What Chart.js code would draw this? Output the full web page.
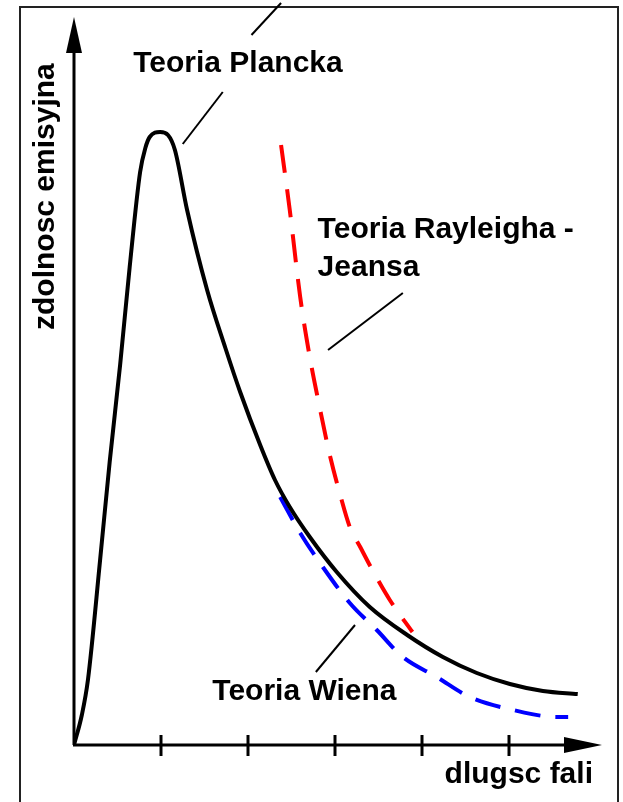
<!DOCTYPE html>
<html>
<head>
<meta charset="utf-8">
<script src="https://cdn.jsdelivr.net/npm/chart.js@4.4.1/dist/chart.umd.min.js"></script>
<style>
  html, body { margin: 0; padding: 0; background: #fff; }
  canvas { display: block; }
</style>
</head>
<body>
<canvas id="planckChart" width="623" height="802"></canvas>
<script>
// wavelength in tick units, emissivity in arbitrary units
var planckX = [0, 0.09, 0.16, 0.30, 0.41, 0.53, 0.64, 0.76, 0.82, 0.87, 0.99, 1.08, 1.16, 1.30, 1.53, 1.74, 1.91, 2.14, 2.31, 2.48, 2.71, 3.02, 3.40, 3.83, 4.24, 4.63, 5.01, 5.39, 5.79];
var planckY = [0, 0.30, 0.65, 1.85, 2.83, 3.80, 4.78, 5.73, 5.97, 6.08, 6.13, 6.10, 5.95, 5.35, 4.55, 3.97, 3.53, 3.00, 2.65, 2.38, 2.08, 1.73, 1.38, 1.10, 0.88, 0.72, 0.61, 0.54, 0.51];

var rayleighX = [2.38, 2.48, 2.60, 2.71, 2.83, 2.94, 3.06, 3.17, 3.29, 3.43, 3.63, 3.89];
var rayleighY = [6.00, 5.35, 4.48, 3.88, 3.35, 2.90, 2.50, 2.18, 1.98, 1.75, 1.45, 1.13];

var wienX = [2.37, 2.60, 2.86, 3.17, 3.48, 3.78, 4.17, 4.55, 5.05, 5.55, 5.68];
var wienY = [2.48, 2.12, 1.78, 1.42, 1.15, 0.88, 0.68, 0.48, 0.35, 0.28, 0.28];

var xTicks = [1, 2, 3, 4, 5];

// captions: [text, x, y] (baseline-left, data units)
var captions = [
  ['Teoria Plancka', 0.68, 6.73],
  ['Teoria Rayleigha -', 2.80, 5.07],
  ['Jeansa', 2.80, 4.69],
  ['Teoria Wiena', 1.59, 0.45],
  ['dlugsc fali', 4.26, -0.38]
];
var yTitle = ['zdolnosc emisyjna', -0.23, 4.15];

// pointer lines: [x1, y1, x2, y2]
var pointers = [
  [2.38, 7.42, 2.04, 7.10],
  [1.71, 6.53, 1.25, 6.01],
  [3.78, 4.52, 2.92, 3.95],
  [3.23, 1.20, 2.78, 0.73]
];

function pairs(xs, ys) {
  return xs.map(function (x, i) { return { x: x, y: ys[i] }; });
}

var FONT = 'bold 30px "Liberation Sans", Arial, sans-serif';

var sketchPlugin = {
  id: 'sketch',
  beforeDraw: function (chart) {
    var ctx = chart.ctx;
    ctx.save();
    ctx.fillStyle = '#fff';
    ctx.fillRect(0, 0, chart.width, chart.height);
    ctx.strokeStyle = '#222';
    ctx.lineWidth = 2;
    ctx.strokeRect(20, 7, 598, 800);
    ctx.restore();
  },
  afterDatasetsDraw: function (chart) {
    var ctx = chart.ctx;
    var xs = chart.scales.x;
    var ys = chart.scales.y;
    var x0 = xs.getPixelForValue(0);
    var y0 = ys.getPixelForValue(0);
    var xEnd = xs.getPixelForValue(6) + 6;
    var yEnd = ys.getPixelForValue(7) - 28;

    ctx.save();
    ctx.strokeStyle = '#000';
    ctx.fillStyle = '#000';
    ctx.lineCap = 'butt';

    // axes
    ctx.lineWidth = 3;
    ctx.beginPath();
    ctx.moveTo(x0, y0);
    ctx.lineTo(x0, yEnd + 10);
    ctx.moveTo(x0 - 1, y0);
    ctx.lineTo(xEnd - 10, y0);
    ctx.stroke();

    // arrow heads
    ctx.beginPath();
    ctx.moveTo(x0, yEnd);
    ctx.lineTo(x0 - 8, yEnd + 36);
    ctx.lineTo(x0 + 8, yEnd + 36);
    ctx.closePath();
    ctx.fill();
    ctx.beginPath();
    ctx.moveTo(xEnd, y0);
    ctx.lineTo(xEnd - 38, y0 - 8);
    ctx.lineTo(xEnd - 38, y0 + 8);
    ctx.closePath();
    ctx.fill();

    // ticks across the x axis
    xTicks.forEach(function (t) {
      var px = xs.getPixelForValue(t);
      ctx.beginPath();
      ctx.moveTo(px, y0 - 10);
      ctx.lineTo(px, y0 + 11);
      ctx.stroke();
    });

    // pointer lines
    ctx.lineWidth = 2;
    pointers.forEach(function (p) {
      ctx.beginPath();
      ctx.moveTo(xs.getPixelForValue(p[0]), ys.getPixelForValue(p[1]));
      ctx.lineTo(xs.getPixelForValue(p[2]), ys.getPixelForValue(p[3]));
      ctx.stroke();
    });

    // captions
    ctx.font = FONT;
    ctx.textAlign = 'left';
    ctx.textBaseline = 'alphabetic';
    captions.forEach(function (c) {
      ctx.fillText(c[0], xs.getPixelForValue(c[1]), ys.getPixelForValue(c[2]));
    });

    ctx.translate(xs.getPixelForValue(yTitle[1]), ys.getPixelForValue(yTitle[2]));
    ctx.rotate(-Math.PI / 2);
    ctx.fillText(yTitle[0], 0, 0);
    ctx.restore();
  }
};

var chartCanvas = document.getElementById('planckChart').getContext('2d');

var chartData = {
  datasets: [
    {
      label          : 'Teoria Plancka',
      data           : pairs(planckX, planckY),
      borderColor    : '#000',
      borderWidth    : 4,
      cubicInterpolationMode: 'monotone',
      pointRadius    : 0,
      showLine       : true
    },
    {
      label          : 'Teoria Rayleigha - Jeansa',
      data           : pairs(rayleighX, rayleighY),
      borderColor    : '#ff0000',
      borderWidth    : 4,
      borderDash     : [28, 17],
      cubicInterpolationMode: 'monotone',
      pointRadius    : 0,
      showLine       : true
    },
    {
      label          : 'Teoria Wiena',
      data           : pairs(wienX, wienY),
      borderColor    : '#0000ff',
      borderWidth    : 4,
      borderDash     : [26, 15],
      cubicInterpolationMode: 'monotone',
      pointRadius    : 0,
      showLine       : true
    }
  ]
};

var chartOptions = {
  responsive : false,
  animation  : false,
  layout     : { padding: { left: 74, right: 27, top: 45, bottom: 57 } },
  plugins    : {
    legend  : { display: false },
    tooltip : { enabled: false }
  },
  scales     : {
    x: { type: 'linear', min: 0, max: 6, display: false },
    y: { type: 'linear', min: 0, max: 7, display: false }
  }
};

new Chart(chartCanvas, {
  type    : 'scatter',
  data    : chartData,
  options : chartOptions,
  plugins : [sketchPlugin]
});
</script>
</body>
</html>
